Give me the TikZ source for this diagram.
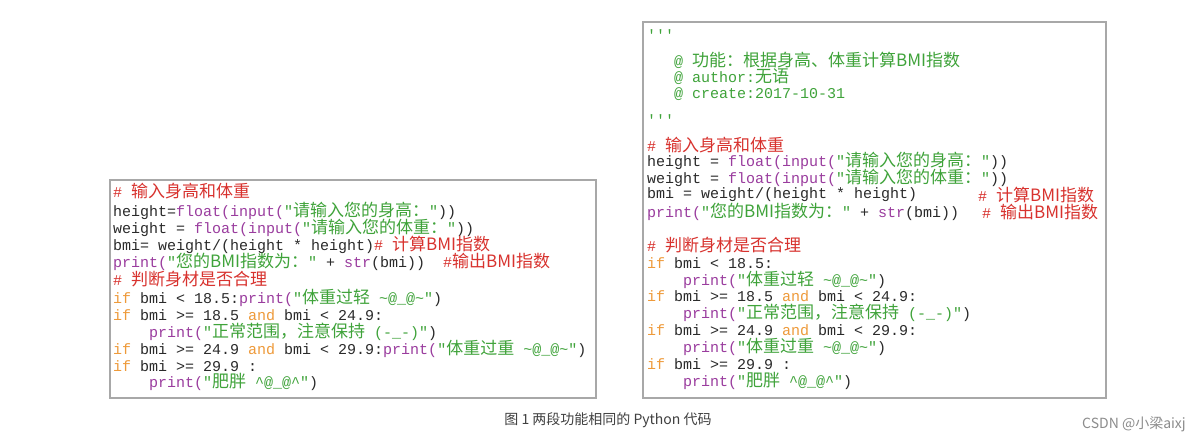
\documentclass[tikz,border=0pt]{standalone}
\usepackage{fontspec}
\setmonofont{Liberation Mono}
\newfontfamily\zhf{Noto Sans CJK SC}
\definecolor{cmc}{HTML}{D8322E}
\definecolor{kwc}{HTML}{9A3C9E}
\definecolor{sgc}{HTML}{3FA33A}
\definecolor{kyc}{HTML}{EE9A3A}
\definecolor{txc}{HTML}{2A2A2A}
\definecolor{bdc}{HTML}{A8A8A8}
\newcommand\zh[1]{{\zhf\fontsize{17}{17}\selectfont #1}}
\newcommand\cmt[1]{\textcolor{cmc}{#1}}
\newcommand\kwd[1]{\textcolor{kwc}{#1}}
\newcommand\sgx[1]{\textcolor{sgc}{#1}}
\newcommand\kyw[1]{\textcolor{kyc}{#1}}
\newcommand\ind[1]{\phantom{#1}}
\begin{document}
\begin{tikzpicture}[x=1pt,y=-1pt,
  ln/.style={anchor=west,inner sep=0pt,text=txc,font=\ttfamily\fontsize{15}{17}\selectfont},
  box/.style={draw=bdc,line width=2pt,fill=white}]
\useasboundingbox (0,0) rectangle (1196,444);
\fill[white] (0,0) rectangle (1196,444);
\draw[box] (110,180) rectangle (596,398);
\draw[box] (643,22) rectangle (1106,398);
% left
\node[ln] (l1) at (113,191) {\cmt{\# \zh{输入身高和体重}}};
\node[ln] (l2) at (113,211) {height=\kwd{float(input(}\sgx{"\zh{请输入您的身高：}"}))};
\node[ln] (l3) at (113,228) {weight = \kwd{float(input(}\sgx{"\zh{请输入您的体重：}"}))};
\node[ln] (l4) at (113,245) {bmi= weight/(height * height)\cmt{\# \zh{计算BMI指数}}};
\node[ln] (l5) at (113,262) {\kwd{print(}\sgx{"\zh{您的BMI指数为：}"} + \kwd{str}(bmi))\ind{xx}\cmt{\#\zh{输出BMI指数}}};
\node[ln] (l6) at (113,279) {\cmt{\# \zh{判断身材是否合理}}};
\node[ln] (l7) at (113,298) {\kyw{if} bmi < 18.5:\kwd{print(}\sgx{"\zh{体重过轻} \textasciitilde @\_@\textasciitilde"})};
\node[ln] (l8) at (113,315) {\kyw{if} bmi >= 18.5 \kyw{and} bmi < 24.9:};
\node[ln] (l9) at (113,332) {\ind{xxxx}\kwd{print(}\sgx{"\zh{正常范围，注意保持} (-\_-)"})};
\node[ln] (l10) at (113,349) {\kyw{if} bmi >= 24.9 \kyw{and} bmi < 29.9:\kwd{print(}\sgx{"\zh{体重过重} \textasciitilde @\_@\textasciitilde"})};
\node[ln] (l11) at (113,366) {\kyw{if} bmi >= 29.9 :};
\node[ln] (l12) at (113,382) {\ind{xxxx}\kwd{print(}\sgx{"\zh{肥胖} \textasciicircum @\_@\textasciicircum"})};
% right
\node[ln] (r1) at (647,35) {\sgx{'''}};
\node[ln] (r2) at (647,60) {\ind{xxx}\sgx{@ \zh{功能：根据身高、体重计算BMI指数}}};
\node[ln] (r3) at (647,77) {\ind{xxx}\sgx{@ author:\zh{无语}}};
\node[ln] (r4) at (647,94) {\ind{xxx}\sgx{@ create:2017-10-31}};
\node[ln] (r5) at (647,120) {\sgx{'''}};
\node[ln] (r6) at (647,145) {\cmt{\# \zh{输入身高和体重}}};
\node[ln] (r7) at (647,161) {height = \kwd{float(input(}\sgx{"\zh{请输入您的身高：}"}))};
\node[ln] (r8) at (647,178) {weight = \kwd{float(input(}\sgx{"\zh{请输入您的体重：}"}))};
\node[ln] (r9) at (647,195) {bmi = weight/(height * height)};
\node[ln] (r9c) at (978,195) {\cmt{\# \zh{计算BMI指数}}};
\node[ln] (r10) at (647,212) {\kwd{print(}\sgx{"\zh{您的BMI指数为：}"} + \kwd{str}(bmi))};
\node[ln] (r10c) at (982,212) {\cmt{\# \zh{输出BMI指数}}};
\node[ln] (r11) at (647,245) {\cmt{\# \zh{判断身材是否合理}}};
\node[ln] (r12) at (647,263) {\kyw{if} bmi < 18.5:};
\node[ln] (r13) at (647,280) {\ind{xxxx}\kwd{print(}\sgx{"\zh{体重过轻} \textasciitilde @\_@\textasciitilde"})};
\node[ln] (r14) at (647,296) {\kyw{if} bmi >= 18.5 \kyw{and} bmi < 24.9:};
\node[ln] (r15) at (647,313) {\ind{xxxx}\kwd{print(}\sgx{"\zh{正常范围，注意保持} (-\_-)"})};
\node[ln] (r16) at (647,330) {\kyw{if} bmi >= 24.9 \kyw{and} bmi < 29.9:};
\node[ln] (r17) at (647,347) {\ind{xxxx}\kwd{print(}\sgx{"\zh{体重过重} \textasciitilde @\_@\textasciitilde"})};
\node[ln] (r18) at (647,364) {\kyw{if} bmi >= 29.9 :};
\node[ln] (r19) at (647,381) {\ind{xxxx}\kwd{print(}\sgx{"\zh{肥胖} \textasciicircum @\_@\textasciicircum"})};
% caption
\node[inner sep=0pt,text=black!75,font=\zhf\fontsize{14}{16}\selectfont] (cap) at (608,420) {图 1 两段功能相同的 Python 代码};
\node[anchor=east,inner sep=0pt,text=black!45,font=\zhf\fontsize{14}{16}\selectfont] (wm) at (1186,424) {CSDN @小梁aixj};
\end{tikzpicture}
\end{document}
